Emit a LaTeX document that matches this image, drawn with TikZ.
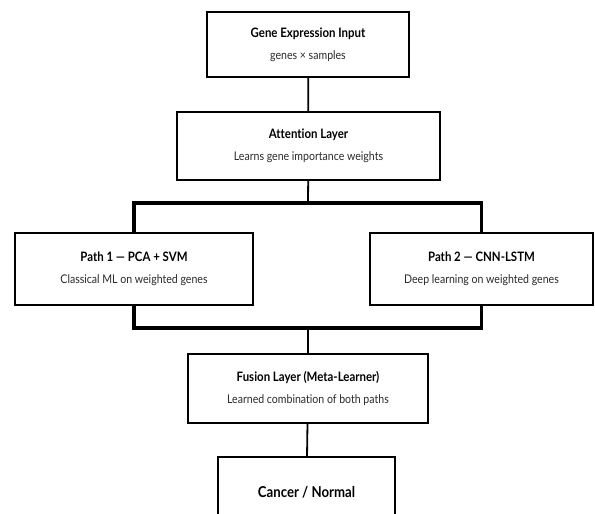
\documentclass[tikz,border=0pt]{standalone}
\usepackage{fontspec}
\setmainfont{Lato}[FakeStretch=0.88, Ligatures=NoCommon]
\usepackage{tikz, xcolor}

\definecolor{subgray}{HTML}{2a2a2a}

\tikzset{
    box/.style={draw=black, line width=1.5pt, fill=white, align=center, inner sep=0pt},
    link/.style={line width=1.8pt},
    bar/.style={line width=3.8pt},
}

\newcommand{\sub}[1]{\\[10pt]{\color{subgray}\fontsize{12}{13}\selectfont #1}}

\begin{document}
\begin{tikzpicture}[x=1pt, y=-1pt]

    \useasboundingbox (0,0) rectangle (595,514);

    \node[box, minimum width=202pt, minimum height=65pt] (input) at (308, 44.5)
        {\bfseries\fontsize{13}{14}\selectfont Gene Expression Input\sub{genes × samples}};
    \node[box, minimum width=263pt, minimum height=68pt] (attn) at (308.5, 146)
        {\bfseries\fontsize{13}{14}\selectfont Attention Layer\sub{Learns gene importance weights}};

    \node[box, minimum width=238pt, minimum height=72pt] (path1) at (134, 269)
        {\bfseries\fontsize{13}{14}\selectfont Path 1 --- PCA + SVM\sub{Classical ML on weighted genes}};
    \node[box, minimum width=223pt, minimum height=72pt] (path2) at (481.5, 269)
        {\bfseries\fontsize{13}{14}\selectfont Path 2 --- CNN-LSTM\sub{Deep learning on weighted genes}};

    \node[box, minimum width=240pt, minimum height=69pt] (fusion) at (308, 388.5)
        {\bfseries\fontsize{13}{14}\selectfont Fusion Layer (Meta-Learner)\sub{Learned combination of both paths}};
    \node[box, minimum width=177pt, minimum height=70pt] (out) at (306.5, 492)
        {\bfseries\fontsize{15}{16}\selectfont Cancer / Normal};

    \coordinate (split) at (308, 203);
    \coordinate (merge) at (308, 328);

    \draw[link] (input) -- (attn);
    \draw[link] (attn) -- (split);
    \draw[bar] (path1.north) |- (split) -| (path2.north);
    \draw[bar] (path1.south) |- (merge) -| (path2.south);
    \draw[link] (merge) -- (fusion);
    \draw[link] (fusion) -- (out);

\end{tikzpicture}
\end{document}
